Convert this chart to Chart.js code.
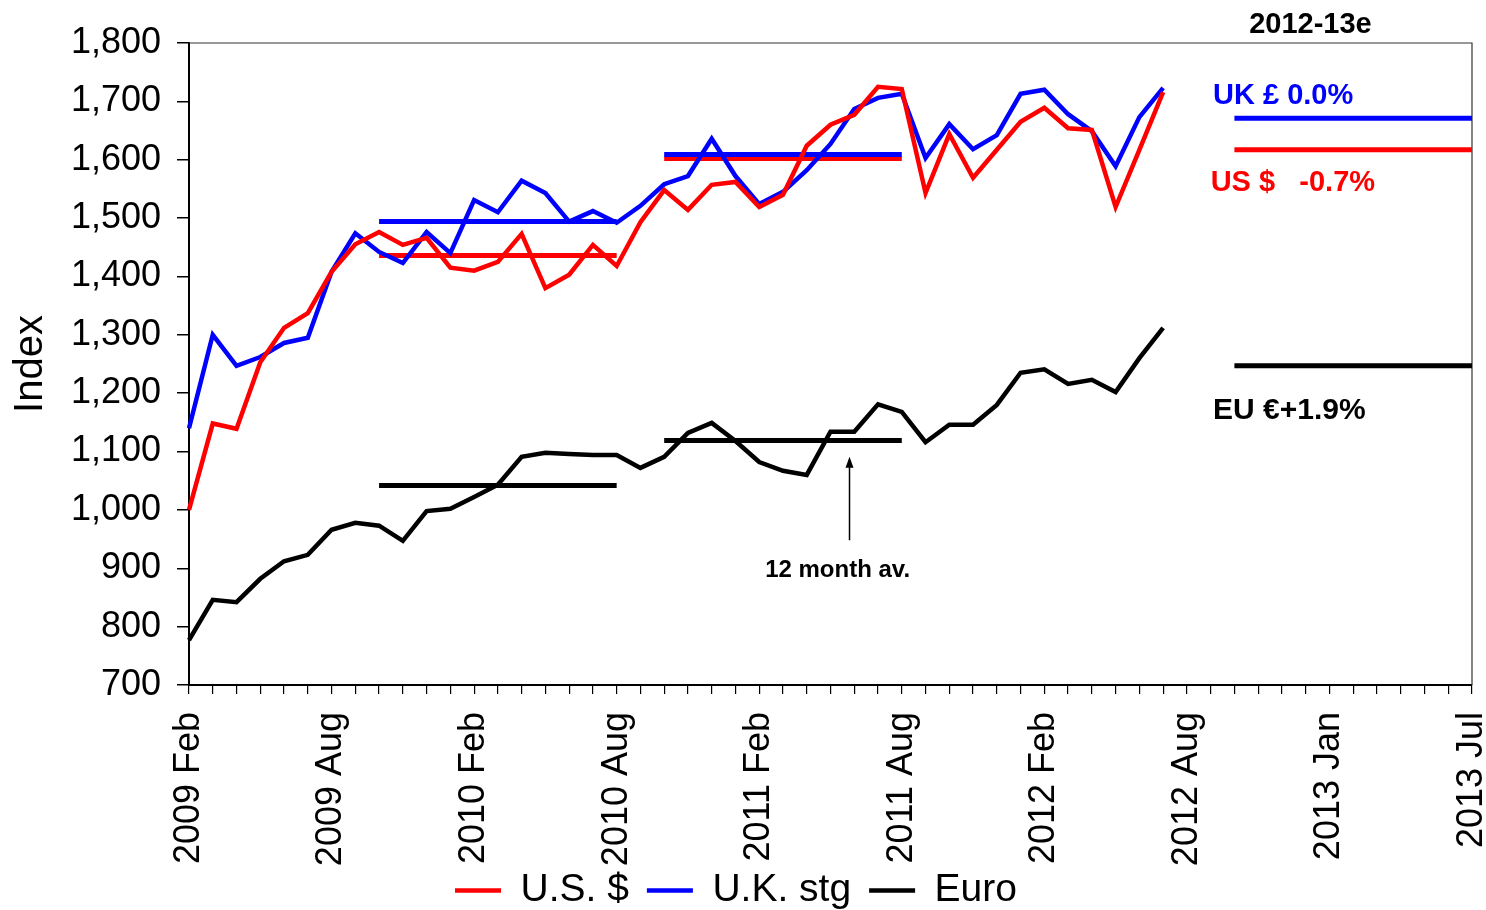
<!DOCTYPE html>
<html>
<head>
<meta charset="utf-8">
<script src="https://cdn.jsdelivr.net/npm/chart.js@4.4.0/dist/chart.umd.min.js"></script>
<style>
  html, body { margin: 0; padding: 0; background: #fff; }
  #wrap { width: 1486px; height: 910px; }
</style>
</head>
<body>
<div id="wrap"><canvas id="chart"></canvas></div>
<script>
// monthly categories, 2009 Feb .. 2013 Jul (as labelled on the original axis)
const months = [
  '2009 Feb', '2009 Mar', '2009 Apr', '2009 May', '2009 Jun', '2009 Jul',
  '2009 Aug', '2009 Sep', '2009 Oct', '2009 Nov', '2009 Dec', '2010 Jan',
  '2010 Feb', '2010 Mar', '2010 Apr', '2010 May', '2010 Jun', '2010 Jul',
  '2010 Aug', '2010 Sep', '2010 Oct', '2010 Nov', '2010 Dec', '2011 Jan',
  '2011 Feb', '2011 Mar', '2011 Apr', '2011 May', '2011 Jun', '2011 Jul',
  '2011 Aug', '2011 Sep', '2011 Oct', '2011 Nov', '2011 Dec', '2012 Jan',
  '2012 Feb', '2012 Mar', '2012 Apr', '2012 May', '2012 Jun', '2012 Jul',
  '2012 Aug', '2012 Sep', '2012 Oct', '2012 Nov', '2012 Dec', '2012 Dec ',
  '2013 Jan', '2013 Feb', '2013 Mar', '2013 Apr', '2013 May', '2013 Jun',
  '2013 Jul'
];
const tickLabels = ['2009 Feb', '2009 Aug', '2010 Feb', '2010 Aug', '2011 Feb',
  '2011 Aug', '2012 Feb', '2012 Aug', '2013 Jan', '2013 Jul'];

const usDollar = [1000, 1148, 1139, 1253, 1312, 1337, 1408, 1455, 1476, 1454,
  1466, 1415, 1410, 1425, 1473, 1380, 1403, 1454, 1418, 1493,
  1548, 1514, 1557, 1562, 1519, 1540, 1624, 1660, 1677, 1725,
  1721, 1543, 1644, 1569, 1617, 1665, 1689, 1654, 1651, 1519,
  1617, 1716];
const ukSterling = [1140, 1300, 1247, 1262, 1286, 1295, 1408, 1474, 1442, 1423,
  1476, 1440, 1531, 1510, 1564, 1543, 1494, 1512, 1492, 1521,
  1558, 1572, 1636, 1572, 1524, 1545, 1582, 1627, 1687, 1706,
  1713, 1603, 1661, 1618, 1642, 1713, 1720, 1678, 1649, 1589,
  1673, 1723];
const euro = [777, 846, 842, 882, 912, 923, 966, 978, 973, 947,
  998, 1002, 1022, 1043, 1091, 1098, 1096, 1094, 1094, 1072,
  1091, 1132, 1149, 1118, 1082, 1067, 1060, 1134, 1134, 1181,
  1168, 1116, 1146, 1146, 1180, 1235, 1241, 1216, 1223, 1202,
  1260, 1312];

// 12 month averages: start / end category index and level
const avgStart = [8, 20, 44];
const avgEnd = [18, 30, 54];
const usAvg = [1436, 1602, 1617];
const ukAvg = [1494, 1609, 1671];
const euAvg = [1042, 1119, 1247];

const FONT = "'Liberation Sans', Arial, sans-serif";
const RED = '#ff0000', BLUE = '#0000ff', BLACK = '#000000';

function avgSets(levels, color) {
  return levels.map((v, k) => ({
    label: 'avg',
    data: [{ x: months[avgStart[k]], y: v }, { x: months[avgEnd[k]], y: v }],
    borderColor: color,
    backgroundColor: color,
    borderWidth: 5,
    pointRadius: 0,
    tension: 0
  }));
}

const annotations = {
  id: 'annotations',
  beforeDraw(chart) {
    // the rotated month labels run below the x scale box, don't clip them
    const x = chart.scales.x;
    if (x && x._computeLabelArea) x._computeLabelArea = () => null;
  },
  beforeDatasetsDraw(chart) {
    const { ctx, chartArea: a } = chart;
    ctx.save();
    ctx.strokeStyle = '#333';
    ctx.lineWidth = 1.2;
    ctx.beginPath();
    ctx.moveTo(a.left, a.top);
    ctx.lineTo(a.right, a.top);
    ctx.lineTo(a.right, a.bottom);
    ctx.stroke();
    ctx.restore();
  },
  afterDraw(chart) {
    const { ctx } = chart;
    const x = chart.scales.x, y = chart.scales.y;
    ctx.save();
    ctx.textBaseline = 'middle';

    ctx.font = 'bold 29px ' + FONT;
    ctx.fillStyle = BLACK;
    ctx.textAlign = 'center';
    ctx.fillText('2012-13e', x.getPixelForValue(47.2), 25);

    ctx.textAlign = 'left';
    ctx.fillStyle = BLUE;
    ctx.fillText('UK £ 0.0%', x.getPixelForValue(43.1), y.getPixelForValue(1710));
    ctx.fillStyle = RED;
    ctx.fillText('US $   -0.7%', x.getPixelForValue(43.0), y.getPixelForValue(1560));
    ctx.fillStyle = BLACK;
    ctx.font = 'bold 30px ' + FONT;
    ctx.fillText('EU €+1.9%', x.getPixelForValue(43.1), y.getPixelForValue(1170));

    ctx.font = 'bold 24px ' + FONT;
    ctx.textAlign = 'center';
    ctx.fillText('12 month av.', x.getPixelForValue(27.3), y.getPixelForValue(897));

    // arrow pointing at the average line
    const ax = x.getPixelForValue(27.8);
    const y0 = y.getPixelForValue(948), y1 = y.getPixelForValue(1091);
    ctx.strokeStyle = BLACK;
    ctx.lineWidth = 1.5;
    ctx.beginPath();
    ctx.moveTo(ax, y0);
    ctx.lineTo(ax, y1 + 8);
    ctx.stroke();
    ctx.beginPath();
    ctx.moveTo(ax, y1);
    ctx.lineTo(ax - 4, y1 + 11);
    ctx.lineTo(ax + 4, y1 + 11);
    ctx.closePath();
    ctx.fill();
    ctx.restore();
  }
};

new Chart(document.getElementById('chart'), {
  type: 'line',
  data: {
    labels: months,
    datasets: [
      { label: 'U.S. $', data: usDollar, borderColor: RED, backgroundColor: RED, borderWidth: 4.5, pointRadius: 0, tension: 0 },
      { label: 'U.K. stg', data: ukSterling, borderColor: BLUE, backgroundColor: BLUE, borderWidth: 4.5, pointRadius: 0, tension: 0 },
      { label: 'Euro', data: euro, borderColor: BLACK, backgroundColor: BLACK, borderWidth: 4.5, pointRadius: 0, tension: 0 },
      ...avgSets(ukAvg, BLUE),
      ...avgSets(usAvg, RED),
      ...avgSets(euAvg, BLACK)
    ]
  },
  options: {
    responsive: true,
    maintainAspectRatio: false,
    animation: false,
    layout: { padding: { left: 0, right: 14, top: 43, bottom: -10 } },
    plugins: {
      tooltip: { enabled: false },
      legend: {
        position: 'bottom',
        labels: {
          filter: (item) => item.text !== 'avg',
          usePointStyle: true,
          pointStyle: 'line',
          pointStyleWidth: 46,
          color: BLACK,
          padding: 18,
          font: { family: FONT, size: 39 }
        }
      }
    },
    scales: {
      x: {
        type: 'category',
        offset: false,
        border: { color: BLACK, width: 2 },
        grid: { drawOnChartArea: false, color: BLACK, tickLength: 9, lineWidth: 1.2 },
        ticks: {
          autoSkip: false,
          maxRotation: 90,
          minRotation: 90,
          padding: 18,
          color: BLACK,
          font: { family: FONT, size: 36 },
          callback: (v, i) => tickLabels.includes(months[i]) ? months[i] : ''
        },
        afterFit: (scale) => {
          scale.height = 168;
          scale.paddingLeft = 0;
          scale.paddingRight = 0;
        }
      },
      y: {
        min: 700,
        max: 1800,
        border: { color: BLACK, width: 2 },
        grid: { drawOnChartArea: false, color: BLACK, tickLength: 12, lineWidth: 1.5 },
        ticks: {
          stepSize: 100,
          padding: 16,
          color: BLACK,
          font: { family: FONT, size: 36 }
        },
        title: {
          display: true,
          text: 'Index',
          color: BLACK,
          padding: { top: 7, bottom: 0 },
          font: { family: FONT, size: 40 }
        },
        afterFit: (scale) => { scale.width = 189; }
      }
    }
  },
  plugins: [annotations]
});
</script>
</body>
</html>
